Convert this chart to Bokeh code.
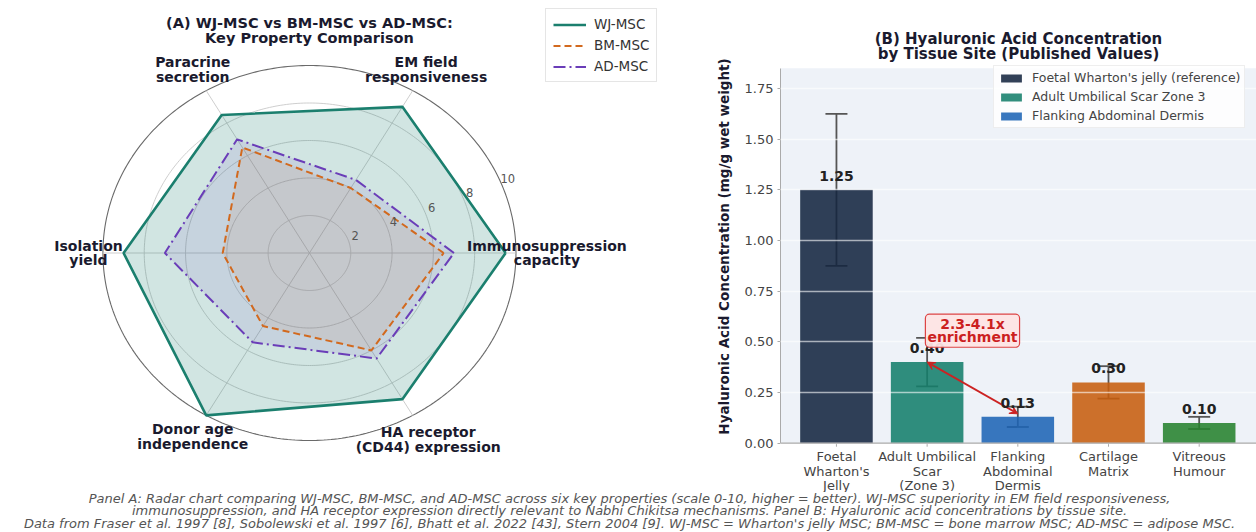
import numpy as np
from bokeh.plotting import figure
from bokeh.models import (Range1d, Legend, LegendItem, Whisker, TeeHead, Arrow, VeeHead, Span, BoxAnnotation,
                          ColumnDataSource, FixedTicker, PrintfTickFormatter)
from bokeh.layouts import row, column
from bokeh.core.properties import value
from bokeh.embed import file_html
from bokeh.resources import INLINE

FN = "DejaVu Sans"
FONT = value(FN)

# ---------------- Panel A data ----------------
radar_categories = ["Immunosuppression\ncapacity", "EM field\nresponsiveness", "Paracrine\nsecretion",
                    "Isolation\nyield", "Donor age\nindependence", "HA receptor\n(CD44) expression"]
wj_msc = [9.5, 9.0, 8.5, 9.0, 10.0, 9.0]
bm_msc = [6.5, 4.0, 6.5, 4.2, 4.5, 6.0]
ad_msc = [7.0, 4.5, 7.0, 7.0, 5.5, 6.5]
radial_ticks = [2, 4, 6, 8, 10]
series_names = ["WJ-MSC", "BM-MSC", "AD-MSC"]
title_a = "(A) WJ-MSC vs BM-MSC vs AD-MSC:\nKey Property Comparison"

# ---------------- Panel B data ----------------
tissues = ["Foetal\nWharton's\nJelly", "Adult Umbilical\nScar\n(Zone 3)", "Flanking\nAbdominal\nDermis",
           "Cartilage\nMatrix", "Vitreous\nHumour"]
ha_conc = [1.25, 0.40, 0.13, 0.30, 0.10]
ha_err = [0.375, 0.12, 0.05, 0.08, 0.03]
bar_colors = ["#142640", "#157e6b", "#1e64b5", "#c75d0e", "#27822e"]
legend_labels = ["Foetal Wharton's jelly (reference)", "Adult Umbilical Scar Zone 3", "Flanking Abdominal Dermis"]
y_ticks = [0, 0.25, 0.5, 0.75, 1.0, 1.25, 1.5, 1.75]
y_max = 1.85
title_b = ["(B) Hyaluronic Acid Concentration", "by Tissue Site (Published Values)"]
enrichment_text = "2.3-4.1x\nenrichment"

caption_lines = [
    "Panel A: Radar chart comparing WJ-MSC, BM-MSC, and AD-MSC across six key properties (scale 0-10, higher = better). WJ-MSC superiority in EM field responsiveness,",
    "immunosuppression, and HA receptor expression directly relevant to Nabhi Chikitsa mechanisms. Panel B: Hyaluronic acid concentrations by tissue site.",
    "Data from Fraser et al. 1997 [8], Sobolewski et al. 1997 [6], Bhatt et al. 2022 [43], Stern 2004 [9]. WJ-MSC = Wharton's jelly MSC; BM-MSC = bone marrow MSC; AD-MSC = adipose MSC.",
]

H = 492  # height of the two panels (frames span the full height)

# ================= Panel A: radar =================
CY, KY = 252.5, 18.75   # radar centre (px from top) and px per unit vertically
pa = figure(width=710, height=H, x_range=Range1d(-14.96, 19.42), y_range=Range1d(-(H - CY) / KY, CY / KY),
            output_backend="svg", toolbar_location=None, min_border=0)
pa.axis.visible = False
pa.grid.visible = False
pa.outline_line_color = None

n = len(radar_categories)
theta = np.arange(n) * 2 * np.pi / n
t = np.linspace(0, 2 * np.pi, 361)

pa.multi_line(xs=[list(r * np.cos(t)) for r in radial_ticks[:-1]],
              ys=[list(r * np.sin(t)) for r in radial_ticks[:-1]],
              line_color="#c8c8c8", line_width=0.9)
rmax = radial_ticks[-1]
pa.line(x=list(rmax * np.cos(t)), y=list(rmax * np.sin(t)), line_color="#6a6a6a", line_width=1.1)
pa.multi_line(xs=[[0, rmax * np.cos(a)] for a in theta], ys=[[0, rmax * np.sin(a)] for a in theta],
              line_color="#c8c8c8", line_width=0.9)

def closed(vals):
    v = list(vals) + [vals[0]]
    a = list(theta) + [theta[0]]
    return [r * np.cos(q) for r, q in zip(v, a)], [r * np.sin(q) for r, q in zip(v, a)]

styles = [
    (wj_msc, "#1b7f6e", 0.20, "solid", 2.6),
    (bm_msc, "#d2691e", 0.10, "7 4", 2.0),
    (ad_msc, "#6a3db8", 0.10, "12 4 2 4", 2.0),
]
line_renderers = []
for vals, col, fa, dash, lw in styles:
    xs, ys = closed(vals)
    pa.patch(x=xs, y=ys, fill_color=col, fill_alpha=fa, line_color=None)
for vals, col, fa, dash, lw in styles:
    xs, ys = closed(vals)
    line_renderers.append(pa.line(x=xs, y=ys, line_color=col, line_width=lw, line_dash=dash))

ang = np.deg2rad(22.5)
pa.text(x=[(r + 0.4) * np.cos(ang) for r in radial_ticks], y=[(r + 0.4) * np.sin(ang) for r in radial_ticks],
        text=[str(r) for r in radial_ticks], text_font=FONT, text_font_size="11.5px", text_color="#555555",
        text_align="center", text_baseline="middle")

label_r = [11.5, 11.3, 11.3, 10.7, 11.3, 11.5]
pa.text(x=[r * np.cos(a) for r, a in zip(label_r, theta)], y=[r * np.sin(a) for r, a in zip(label_r, theta)],
        text=radar_categories, text_font=FONT, text_font_size="14px", text_font_style="bold",
        text_color="#1a1a2e", text_align="center", text_baseline="middle", text_line_height=0.92)

pa.text(x=[0], y=[(CY - 30) / KY], text=[title_a], text_font=FONT, text_font_size="14.5px",
        text_font_style="bold", text_color="#1a1a2e", text_align="center", text_baseline="middle",
        text_line_height=0.97)

leg_a = Legend(items=[LegendItem(label=nm, renderers=[r]) for nm, r in zip(series_names, line_renderers)],
               location=(545, H - 82), label_text_font=FN, label_text_font_size="13.5px", label_text_color="#333333",
               glyph_width=33, glyph_height=15, label_height=15, spacing=5, padding=7, label_standoff=8,
               border_line_color="#cccccc", background_fill_alpha=0.9, margin=0)
pa.add_layout(leg_a, "center")

# ================= Panel B: bars =================
Y0, KB = 442.7, 375.0 / y_max   # px of value 0 from top, px per unit
x_lo, x_hi = -0.617, 4.632
pb = figure(width=546, height=H, x_range=Range1d(x_lo, x_hi), y_range=Range1d(-(H - Y0) / KB, Y0 / KB),
            output_backend="svg", toolbar_location=None, title=None,
            min_border_left=70, min_border_right=0, min_border_top=0, min_border_bottom=0,
            background_fill_color="white")
pb.outline_line_color = None
pb.add_layout(BoxAnnotation(bottom=0, top=y_max, fill_color="#eef2f8", fill_alpha=1.0, line_color=None,
                            level="underlay"))

xs_b = list(range(len(tissues)))
src = ColumnDataSource(dict(
    x=xs_b, top=ha_conc, color=bar_colors,
    upper=[v + e for v, e in zip(ha_conc, ha_err)],
    lower=[v - e for v, e in zip(ha_conc, ha_err)],
    ly=[v + 0.045 for v in ha_conc],
    lab=[f"{v:.2f}" for v in ha_conc],
))
bars = pb.vbar(x="x", top="top", width=0.8, fill_color="color", fill_alpha=0.88, line_color=None, source=src)

wh = Whisker(base="x", upper="upper", lower="lower", source=src, line_color="#555555", line_width=1.8,
             upper_head=TeeHead(size=22, line_color="#555555", line_width=1.8),
             lower_head=TeeHead(size=22, line_color="#555555", line_width=1.8))
pb.add_layout(wh)

pb.text(x="x", y="ly", text="lab", source=src, text_font=FONT, text_font_size="14px", text_font_style="bold",
        text_color="#222222", text_align="center", text_baseline="bottom", level="overlay")

arr = Arrow(x_start=xs_b[1], y_start=ha_conc[1], x_end=xs_b[2], y_end=ha_conc[2] + 0.015,
            line_color="#cc2222", line_width=1.8,
            start=VeeHead(size=8, fill_color="#cc2222", line_color="#cc2222"),
            end=VeeHead(size=8, fill_color="#cc2222", line_color="#cc2222"))
pb.add_layout(arr)
pb.text(x=[1.5], y=[0.555], text=[enrichment_text], text_font=FONT, text_font_size="14px",
        text_font_style="bold", text_color="#cc1f1f", text_align="center", text_baseline="middle",
        text_line_height=0.82, background_fill_color="#fde4e4", background_fill_alpha=0.95,
        border_line_color="#dd4444", border_line_width=1.2, padding=2, border_radius=4, level="overlay")

leg_b = Legend(items=[LegendItem(label=l, renderers=[bars], index=i) for i, l in enumerate(legend_labels)],
               location=(213, H - 128), label_text_font=FN, label_text_font_size="12.5px",
               label_text_color="#444444", glyph_width=26, glyph_height=10, label_height=14, spacing=4,
               padding=4, label_standoff=8, border_line_color="#dddddd", background_fill_alpha=0.85, margin=0)
pb.add_layout(leg_b, "center")

# y axis (real axis, bounded to the data area)
pb.yaxis.ticker = FixedTicker(ticks=y_ticks)
pb.yaxis.formatter = PrintfTickFormatter(format="%.2f")
pb.yaxis.bounds = (0, y_max)
ya = pb.yaxis[0]
ya.axis_line_color = "#aaaaaa"
ya.major_tick_line_color = "#aaaaaa"
ya.major_tick_out = 3
ya.major_tick_in = 0
ya.minor_tick_line_color = None
ya.major_label_text_font = FN
ya.major_label_text_font_size = "13px"
ya.major_label_text_color = "#444444"
ya.major_label_standoff = 4
ya.axis_label = "Hyaluronic Acid Concentration (mg/g wet weight)"
ya.axis_label_text_font = FN
ya.axis_label_text_font_size = "13.5px"
ya.axis_label_text_font_style = "bold"
ya.axis_label_text_color = "#1a1a2e"
ya.axis_label_standoff = 10

# x axis: baseline, ticks and category labels beneath value 0
pb.xaxis.visible = False
pb.add_layout(Span(location=0, dimension="width", line_color="#aaaaaa", line_width=1.2))
pb.segment(x0=xs_b, x1=xs_b, y0=[0] * len(xs_b), y1=[-3.5 / KB] * len(xs_b), line_color="#aaaaaa", line_width=1)
pb.text(x=xs_b, y=[-5.5 / KB] * len(xs_b), text=tissues, text_font=FONT, text_font_size="13px",
        text_color="#444444", text_align="center", text_baseline="top", text_line_height=0.99)

pb.xgrid.visible = False
pb.ygrid.ticker = FixedTicker(ticks=y_ticks)
pb.ygrid.grid_line_color = "white"
pb.ygrid.grid_line_width = 1.3
pb.ygrid.grid_line_alpha = 0.6
pb.ygrid.level = "annotation"

# panel B title
pb.text(x=[(x_lo + x_hi) / 2] * 2, y=[(Y0 - 38) / KB, (Y0 - 53) / KB], text=title_b, text_font=FONT,
        text_font_size="15px", text_font_style="bold", text_color="#1a1a2e", text_align="center",
        text_baseline="middle")

# ================= caption =================
CH = 532 - H
pc = figure(width=1256, height=CH, x_range=Range1d(0, 1256), y_range=Range1d(CH, 0),
            output_backend="svg", toolbar_location=None, min_border=0)
pc.axis.visible = False
pc.grid.visible = False
pc.outline_line_color = None
pc.text(x=[629] * 3, y=[5.5, 18, 30.5], text=caption_lines, text_font=FONT, text_font_size="13px",
        text_font_style="italic", text_color="#555555", text_align="center", text_baseline="middle")

layout = column(row(pa, pb), pc)
open("out.html", "w").write(file_html(layout, INLINE))
